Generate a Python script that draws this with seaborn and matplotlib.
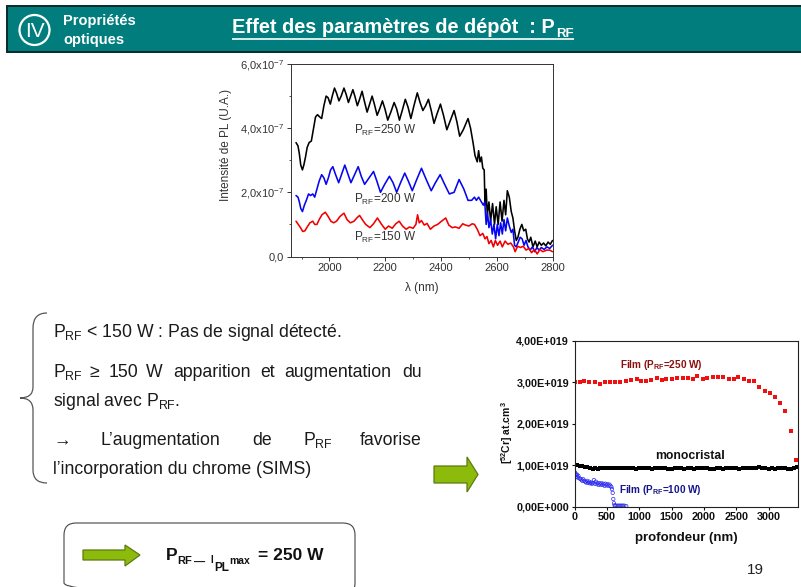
import numpy as np
import pandas as pd
import matplotlib
matplotlib.use("Agg")
import matplotlib.pyplot as plt
import seaborn as sns
from matplotlib.patches import Rectangle, Polygon, FancyBboxPatch, PathPatch, Circle
from matplotlib.path import Path
from matplotlib.ticker import MultipleLocator

# --- PL spectra (x in nm, y in units of 1e-7)
black_x = [1880,1887,1892,1897,1903,1908,1914,1920,1927,1935,1942,1950,1957,1965,1972,1980,1988,1995,2003,2010,2018,2025,2034,2042,2052,2060,2068,2076,2084,2091,2100,2108,2117,2125,2135,2144,2153,2161,2171,2180,2190,2199,2209,2220,2232,2241,2251,2261,2272,2282,2292,2303,2315,2325,2335,2345,2355,2365,2375,2386,2398,2409,2421,2434,2447,2457,2467,2480,2497,2506,2515,2522,2530,2535,2540,2545,2550,2555,2558,2562,2566,2572,2578,2585,2592,2598,2605,2612,2619,2626,2632,2638,2645,2652,2658,2664,2670,2676,2683,2690,2697,2704,2710,2716,2722,2730,2738,2745,2752,2760,2768,2776,2784,2792,2800]
black_y = [3.55,3.45,3.2,2.85,2.7,2.85,3.1,3.4,3.55,3.6,3.95,4.35,4.42,4.35,4.3,4.7,5.0,4.95,4.75,5.0,5.25,5.1,4.85,5.0,5.25,5.05,4.8,5.0,5.2,5.0,4.7,4.9,5.15,4.85,4.5,4.75,5.0,4.75,4.4,4.6,4.85,4.6,4.25,4.5,4.8,4.6,4.25,4.55,4.9,4.65,4.3,4.7,5.1,4.8,4.55,4.7,4.9,4.55,4.15,4.45,4.75,4.4,3.95,4.25,4.55,4.2,3.75,3.95,4.3,4.0,3.55,3.15,2.95,3.3,2.95,3.1,2.75,2.7,1.6,2.1,1.3,1.7,1.1,1.65,1.0,1.55,1.0,1.7,1.1,1.75,1.3,2.05,1.85,1.4,1.2,0.8,0.5,0.6,0.85,1.0,0.8,0.85,0.55,0.45,0.6,0.3,0.48,0.3,0.45,0.35,0.42,0.33,0.45,0.38,0.5]
blue_x = [1880,1887,1892,1897,1903,1910,1917,1925,1932,1940,1947,1955,1963,1972,1980,1988,1996,2004,2012,2022,2033,2043,2055,2065,2077,2090,2103,2114,2126,2142,2158,2170,2183,2198,2215,2228,2241,2255,2270,2283,2297,2313,2330,2347,2365,2380,2397,2413,2430,2447,2465,2482,2497,2510,2520,2527,2535,2545,2552,2557,2562,2567,2572,2578,2584,2590,2596,2602,2608,2614,2620,2626,2632,2638,2645,2652,2658,2664,2670,2677,2684,2691,2698,2705,2712,2720,2728,2736,2744,2752,2760,2770,2780,2790,2800]
blue_y = [1.9,1.85,1.7,1.5,1.4,1.6,1.75,1.95,1.9,1.95,1.85,2.1,2.35,2.55,2.45,2.25,2.45,2.7,2.8,2.55,2.3,2.55,2.85,2.6,2.3,2.55,2.8,2.5,2.25,2.45,2.65,2.35,2.0,2.25,2.5,2.3,2.0,2.3,2.6,2.35,2.05,2.4,2.75,2.4,2.05,2.3,2.55,2.25,1.95,2.0,2.4,2.1,1.75,1.75,1.85,1.75,1.85,1.7,1.6,1.7,1.0,1.35,0.9,1.15,0.7,1.0,0.55,1.0,0.65,1.05,0.7,1.15,0.8,1.2,0.95,0.75,0.85,0.35,0.3,0.45,0.6,0.55,0.35,0.5,0.3,0.2,0.3,0.15,0.28,0.2,0.28,0.22,0.3,0.25,0.35]
red_x = [1880,1888,1896,1904,1912,1920,1930,1940,1947,1955,1963,1973,1985,1995,2005,2015,2025,2038,2052,2063,2075,2088,2098,2108,2120,2130,2145,2158,2172,2187,2200,2212,2225,2238,2250,2262,2275,2287,2300,2310,2316,2322,2330,2340,2350,2362,2375,2388,2402,2417,2428,2440,2452,2465,2478,2488,2500,2512,2520,2530,2540,2550,2558,2565,2572,2580,2588,2595,2603,2612,2620,2630,2640,2650,2660,2666,2675,2685,2695,2705,2715,2725,2735,2745,2755,2765,2780,2790,2800]
red_y = [1.1,1.0,0.9,0.78,0.8,0.92,1.05,1.1,1.0,1.0,1.15,1.3,1.38,1.25,1.1,1.05,1.1,1.25,1.35,1.15,1.05,1.1,1.2,1.28,1.12,1.0,0.9,1.02,1.2,1.0,0.85,0.95,0.88,1.02,1.1,0.95,0.85,0.92,0.88,1.0,1.3,1.05,1.12,0.98,1.03,0.85,0.95,1.0,1.1,1.2,0.98,0.9,0.92,0.88,1.02,0.98,0.95,1.02,1.0,0.85,0.65,0.72,0.55,0.62,0.4,0.5,0.3,0.5,0.35,0.48,0.3,0.48,0.38,0.42,0.3,0.15,0.32,0.28,0.32,0.2,0.25,0.12,0.22,0.08,0.22,0.15,0.2,0.2,0.15]

# --- SIMS profiles (x in nm, y in units of 1e19)
film250_x = [0,80,150,225,310,400,470,550,620,700,790,870,960,1030,1100,1190,1270,1350,1420,1510,1590,1680,1750,1830,1900,1980,2050,2140,2220,2300,2390,2470,2530,2620,2700,2770,2860,2940,3030,3100,3180,3260,3340,3420]
film250_y = [3.0,3.0,3.04,3.0,3.02,2.95,3.0,3.02,3.02,3.02,3.04,3.05,3.08,3.03,3.04,3.05,3.1,3.06,3.07,3.07,3.1,3.1,3.1,3.08,3.15,3.08,3.1,3.13,3.13,3.12,3.07,3.08,3.13,3.08,3.04,3.03,2.9,2.8,2.75,2.65,2.5,2.3,1.83,1.12]
mono_x = [0,40,80,120,160,200,240,280,320,360,400,440,480,520,560,600,640,680,720,760,800,850,900,950,1000,1050,1100,1150,1200,1250,1300,1350,1400,1450,1500,1550,1600,1650,1700,1750,1800,1850,1900,1950,2000,2050,2100,2150,2200,2250,2300,2350,2400,2450,2500,2550,2600,2650,2700,2750,2800,2850,2900,2950,3000,3050,3100,3150,3200,3250,3300,3350,3400,3440]
mono_y = [1.0,1.0,0.98,0.97,0.95,0.96,0.93,0.91,0.92,0.9,0.94,0.92,0.93,0.92,0.93,0.92,0.93,0.92,0.94,0.92,0.93,0.92,0.93,0.91,0.92,0.93,0.92,0.92,0.91,0.93,0.92,0.93,0.92,0.91,0.9,0.93,0.92,0.92,0.91,0.93,0.93,0.91,0.92,0.94,0.92,0.92,0.91,0.91,0.93,0.92,0.9,0.92,0.93,0.92,0.92,0.91,0.92,0.92,0.93,0.92,0.92,0.95,0.94,0.92,0.91,0.93,0.91,0.92,0.93,0.93,0.9,0.9,0.92,0.95]
film100_x = [0,10,20,30,40,50,60,75,90,105,120,135,150,165,180,195,210,225,240,255,270,285,300,315,330,345,360,375,390,405,420,435,450,465,480,495,510,525,540,555,570,580,590,600,610,620,630,650,670,690,710,730,750,770,800]
film100_y = [0.75,0.82,0.78,0.72,0.77,0.7,0.74,0.68,0.67,0.65,0.62,0.66,0.62,0.6,0.58,0.62,0.57,0.6,0.56,0.58,0.55,0.57,0.64,0.55,0.6,0.54,0.57,0.52,0.56,0.53,0.56,0.52,0.55,0.5,0.55,0.51,0.54,0.5,0.53,0.5,0.47,0.42,0.33,0.18,0.08,0.03,0.02,0.02,0.02,0.02,0.02,0.02,0.02,0.02,0.01]

pl_ticks = [0, 2e-7, 4e-7, 6e-7]
pl_labels = ["0,0", "2,0x10$^{-7}$", "4,0x10$^{-7}$", "6,0x10$^{-7}$"]
pl_xticks = [2000, 2200, 2400, 2600, 2800]
sims_yticks = [0, 1e19, 2e19, 3e19, 4e19]
sims_ylabels = ["0,00E+000", "1,00E+019", "2,00E+019", "3,00E+019", "4,00E+019"]
sims_xticks = [0, 500, 1000, 1500, 2000, 2500, 3000]

sns.set_theme(style="white")
plt.rcParams["font.family"] = ["Liberation Sans", "DejaVu Sans"]
plt.rcParams["mathtext.fontset"] = "custom"
plt.rcParams["mathtext.rm"] = "Liberation Sans"
plt.rcParams["mathtext.bf"] = "Liberation Sans:bold"
plt.rcParams["mathtext.default"] = "regular"

W, H = 801, 587
fig = plt.figure(figsize=(W / 100, H / 100), dpi=100)


def axes_px(x0, y0, x1, y1):
    return fig.add_axes([x0 / W, 1 - y1 / H, (x1 - x0) / W, (y1 - y0) / H])


ov = fig.add_axes([0, 0, 1, 1], zorder=5)
ov.set_xlim(0, W)
ov.set_ylim(H, 0)
ov.axis("off")
ov.patch.set_alpha(0)

TEAL = "#017D7E"
GREEN = "#8DBB0B"
ov.add_patch(Rectangle((7, 5.5), 800, 46, fc=TEAL, ec="#062a2c", lw=1.4))
ov.add_patch(Circle((34.5, 30), 15, fc="none", ec="white", lw=1.6))
ov.text(34.5, 37, "IV", color="white", fontsize=15, ha="center", va="baseline")
ov.text(63, 24.5, "Propriétés", color="white", fontsize=10.5, fontweight="bold", va="baseline")
ov.text(63, 44, "optiques", color="white", fontsize=10.5, fontweight="bold", va="baseline")
ov.text(232, 33, "Effet des paramètres de dépôt  : P", color="white", fontsize=14.4, fontweight="bold", va="baseline")
ov.text(556, 37, "RF", color="white", fontsize=9.5, fontweight="bold", va="baseline")
ov.plot([232, 574], [38.5, 38.5], color="white", lw=1.2, solid_capstyle="butt")

# --- Left text block
body = dict(color="#1a1a1a", fontsize=12.7, va="baseline")
P = "P$_{RF}$"
ov.text(53, 337, P + " < 150 W : Pas de signal détecté.", **body)
for x, w in [(53, P), (89, "≥"), (109, "150"), (146, "W"), (173, "apparition"), (260, "et"), (284, "augmentation"), (402, "du")]:
    ov.text(x, 377, w, **body)
ov.text(53, 406, "signal avec " + P + ".", **body)
for x, w in [(53, "→"), (101, "L’augmentation"), (252, "de"), (303, P), (360, "favorise")]:
    ov.text(x, 445, w, **body)
ov.text(53, 474, "l’incorporation du chrome (SIMS)", **body)

brace = Path(
    [(47, 313), (33, 313), (33, 328), (33, 387), (33, 398), (20, 398), (33, 398), (33, 410), (33, 470), (33, 483), (47, 483)],
    [Path.MOVETO, Path.CURVE3, Path.CURVE3, Path.LINETO, Path.CURVE3, Path.CURVE3, Path.CURVE3, Path.CURVE3, Path.LINETO, Path.CURVE3, Path.CURVE3],
)
ov.add_patch(PathPatch(brace, fc="none", ec="#555555", lw=0.9))

ov.add_patch(Polygon([(434, 466), (467, 466), (467, 457), (478, 474.5), (467, 492), (467, 483), (434, 483)],
                     fc=GREEN, ec="#5d7a10", lw=0.9))
ov.add_patch(FancyBboxPatch((70, 529), 279, 60, boxstyle="round,pad=6,rounding_size=12", fc="none", ec="#444444", lw=0.8))
ov.add_patch(Polygon([(83, 550), (125, 550), (125, 545), (140, 555), (125, 566), (125, 560), (83, 560)],
                     fc=GREEN, ec="#5d7a10", lw=0.9))
bold = dict(color="#111111", fontweight="bold", va="baseline")
ov.text(166, 560, "P", fontsize=12.5, **bold)
ov.text(177.5, 564, "RF", fontsize=8, **bold)
ov.text(194, 566, "—", fontsize=8, **bold)
ov.text(210.5, 563, "I", fontsize=7, **bold)
ov.text(214, 571, "PL", fontsize=8.5, **bold)
ov.text(229, 564, "max", fontsize=7.5, **bold)
ov.text(258, 560, "= 250 W", fontsize=12.5, **bold)
ov.text(747, 574, "19", color="#222222", fontsize=11, va="baseline")

# --- Photoluminescence panel
ax1 = axes_px(291, 64, 552.5, 256.5)
pl = pd.concat([
    pd.DataFrame({"x": black_x, "y": np.array(black_y) * 1e-7, "s": "250"}),
    pd.DataFrame({"x": blue_x, "y": np.array(blue_y) * 1e-7, "s": "200"}),
    pd.DataFrame({"x": red_x, "y": np.array(red_y) * 1e-7, "s": "150"}),
])
sns.lineplot(data=pl, x="x", y="y", hue="s", hue_order=["250", "200", "150"],
             palette=["#000000", "#0505f0", "#f00000"], lw=1.15, estimator=None, sort=False, legend=False, ax=ax1)
ax1.set_xlim(1862, 2800)
ax1.set_ylim(0, 6e-7)
ax1.set_xticks(pl_xticks)
ax1.set_yticks(pl_ticks, pl_labels)
ax1.xaxis.set_minor_locator(MultipleLocator(100))
ax1.yaxis.set_minor_locator(MultipleLocator(1e-7))
ax1.tick_params(which="major", direction="out", length=3, width=0.7, labelsize=8, colors="#333333", pad=2, bottom=True, left=True)
ax1.tick_params(which="minor", direction="out", length=1.7, width=0.6, colors="#333333", bottom=True, left=True)
for s in ax1.spines.values():
    s.set_linewidth(0.7)
    s.set_color("#333333")
ax1.set_xlabel("λ (nm)", fontsize=8.5, color="#333333", labelpad=6)
ax1.set_ylabel("Intensité de PL (U.A.)", fontsize=8.5, color="#333333", labelpad=6, y=0.58)
lab = dict(color="#333333", fontsize=8.5, va="baseline")
ov.text(354, 134, "P$_{RF}$=250 W", **lab)
ov.text(354, 203, "P$_{RF}$=200 W", **lab)
ov.text(354, 241, "P$_{RF}$=150 W", **lab)

# --- SIMS panel
ax2 = axes_px(574.5, 341, 797.5, 506.5)
sns.scatterplot(x=np.array(mono_x), y=np.array(mono_y) * 1e19, color="black", marker="s", s=9, linewidth=0, ax=ax2, legend=False)
sns.lineplot(x=np.array(mono_x), y=np.array(mono_y) * 1e19, color="black", lw=1.6, estimator=None, ax=ax2, legend=False)
sns.scatterplot(x=np.array(film250_x), y=np.array(film250_y) * 1e19, color="#f01010", marker="s", s=8, linewidth=0, ax=ax2, legend=False)
sns.scatterplot(x=np.array(film100_x), y=np.array(film100_y) * 1e19, marker="o", s=6, facecolor="none", edgecolor="#2a2af0", linewidth=0.5, ax=ax2, legend=False)
ax2.set_xlim(0, 3448)
ax2.set_ylim(0, 4e19)
ax2.set_xticks(sims_xticks)
ax2.set_yticks(sims_yticks, sims_ylabels)
ax2.tick_params(direction="out", length=2.5, width=0.8, labelsize=7.8, colors="#111111", pad=1.5, bottom=True, left=True)
for t in ax2.get_xticklabels() + ax2.get_yticklabels():
    t.set_fontweight("bold")
for s in ax2.spines.values():
    s.set_linewidth(0.8)
    s.set_color("#222222")
ax2.set_xlabel("profondeur (nm)", fontsize=9.5, fontweight="bold", color="#111111", labelpad=7)
ax2.set_ylabel("[$^{52}$Cr] at.cm$^{3}$", fontsize=7.5, fontweight="bold", color="#111111", labelpad=1, y=0.444)
ov.text(620.5, 368, r"Film (P$_{\mathbf{RF}}$=250 W)", color="#8a0f0f", fontsize=7.2, fontweight="bold", va="baseline")
ov.text(655, 459, "monocristal", color="#111111", fontsize=8.8, fontweight="bold", va="baseline")
ov.text(619, 493, r"Film (P$_{\mathbf{RF}}$=100 W)", color="#16168a", fontsize=7.2, fontweight="bold", va="baseline")

fig.savefig("out.png", dpi=100)
